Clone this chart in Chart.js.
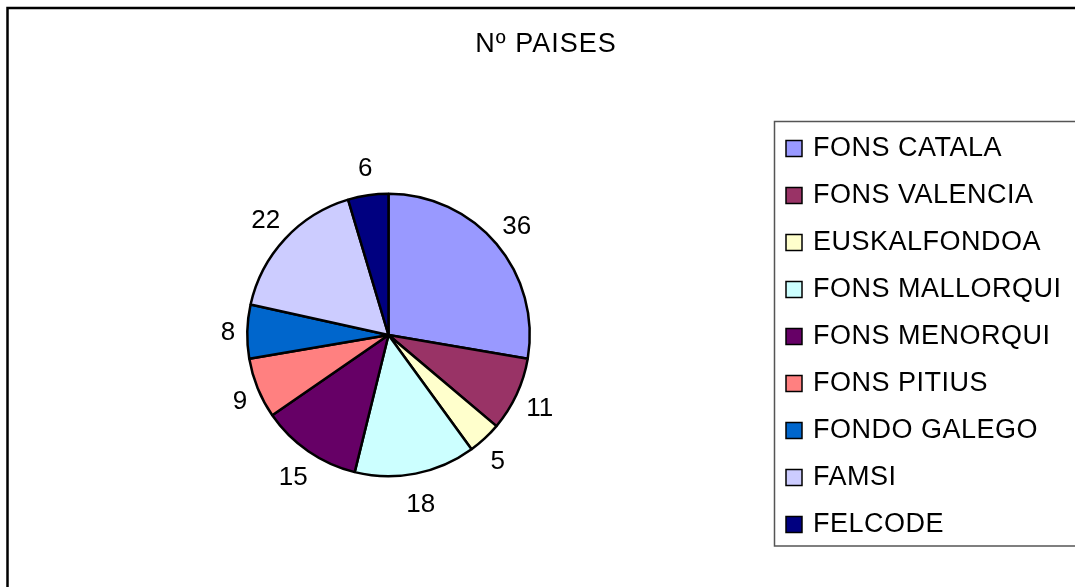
<!DOCTYPE html>
<html>
<head>
<meta charset="utf-8">
<script src="https://cdn.jsdelivr.net/npm/chart.js@4/dist/chart.umd.min.js"></script>
<style>
  html, body { margin: 0; padding: 0; background: #ffffff; }
  #wrap { width: 1075px; height: 587px; position: relative; }
</style>
</head>
<body>
<div id="wrap"><canvas id="c" width="1075" height="587"></canvas></div>
<script>
const chartTitle = "Nº PAISES";
const categories = ["FONS CATALA", "FONS VALENCIA", "EUSKALFONDOA", "FONS MALLORQUI", "FONS MENORQUI", "FONS PITIUS", "FONDO GALEGO", "FAMSI", "FELCODE"];
const paises = [36, 11, 5, 18, 15, 9, 8, 22, 6];
const sliceColors = ["#9999FF", "#993366", "#FFFFCC", "#CCFFFF", "#660066", "#FF8080", "#0066CC", "#CCCCFF", "#000080"];

const FONT = "'Liberation Sans', Arial, sans-serif";

const framePlugin = {
  id: 'frame',
  beforeDraw(chart) {
    const ctx = chart.ctx;
    ctx.save();
    ctx.fillStyle = '#ffffff';
    ctx.fillRect(0, 0, chart.width, chart.height);
    ctx.strokeStyle = '#000000';
    ctx.lineWidth = 2.5;
    ctx.strokeRect(7.5, 8, chart.width + 20, chart.height + 20);
    ctx.restore();
  }
};

const titlePlugin = {
  id: 'xlTitle',
  afterDraw(chart) {
    const ctx = chart.ctx;
    ctx.save();
    ctx.font = "27px " + FONT;
    ctx.letterSpacing = "1px";
    ctx.fillStyle = '#000';
    ctx.textAlign = 'center';
    ctx.textBaseline = 'alphabetic';
    ctx.fillText(chartTitle, 546, 52);
    ctx.restore();
  }
};

const labelPlugin = {
  id: 'sliceLabels',
  afterDatasetsDraw(chart) {
    const ctx = chart.ctx;
    const meta = chart.getDatasetMeta(0);
    ctx.save();
    ctx.font = "26px " + FONT;
    ctx.letterSpacing = "0px";
    ctx.fillStyle = '#000';
    ctx.textAlign = 'center';
    ctx.textBaseline = 'alphabetic';
    const capH = 18.5;
    meta.data.forEach((arc, i) => {
      const p = arc.getProps(['x', 'y', 'startAngle', 'endAngle', 'outerRadius'], true);
      const mid = (p.startAngle + p.endAngle) / 2;
      const rx = p.outerRadius + 12;
      const ry = p.outerRadius + 20;
      const ax = p.x + rx * Math.cos(mid);
      const ay = p.y + ry * Math.sin(mid);
      const txt = String(chart.data.datasets[0].data[i]);
      const w = ctx.measureText(txt).width;
      const cx = ax + (w / 2) * Math.cos(mid);
      const cy = ay + (capH / 2) * Math.sin(mid);
      ctx.fillText(txt, cx, cy + capH / 2);
    });
    ctx.restore();
  }
};

const legendPlugin = {
  id: 'xlLegend',
  afterDraw(chart) {
    const ctx = chart.ctx;
    const ds = chart.data.datasets[0];
    ctx.save();
    ctx.strokeStyle = '#555555';
    ctx.lineWidth = 1.5;
    ctx.strokeRect(774.5, 121.5, 400, 424.5);
    ctx.font = "27px " + FONT;
    ctx.letterSpacing = "0.5px";
    ctx.textBaseline = 'alphabetic';
    ctx.textAlign = 'left';
    chart.data.labels.forEach((lab, i) => {
      const c = 146 + 47 * i;
      ctx.fillStyle = ds.backgroundColor[i];
      ctx.fillRect(786, c - 5.5, 16, 16);
      ctx.strokeStyle = '#000';
      ctx.lineWidth = 1.5;
      ctx.strokeRect(786, c - 5.5, 16, 16);
      ctx.fillStyle = '#000';
      ctx.fillText(lab, 813, c + 9.6);
    });
    ctx.restore();
  }
};

new Chart(document.getElementById('c'), {
  type: 'pie',
  data: {
    labels: categories,
    datasets: [{
      data: paises,
      backgroundColor: sliceColors,
      borderColor: '#000000',
      borderWidth: 2.5
    }]
  },
  options: {
    responsive: false,
    animation: false,
    events: [],
    layout: { padding: { left: 246, right: 544, top: 192.5, bottom: 109.5 } },
    plugins: {
      legend: { display: false },
      title: { display: false },
      tooltip: { enabled: false }
    }
  },
  plugins: [framePlugin, labelPlugin, titlePlugin, legendPlugin]
});
</script>
</body>
</html>
